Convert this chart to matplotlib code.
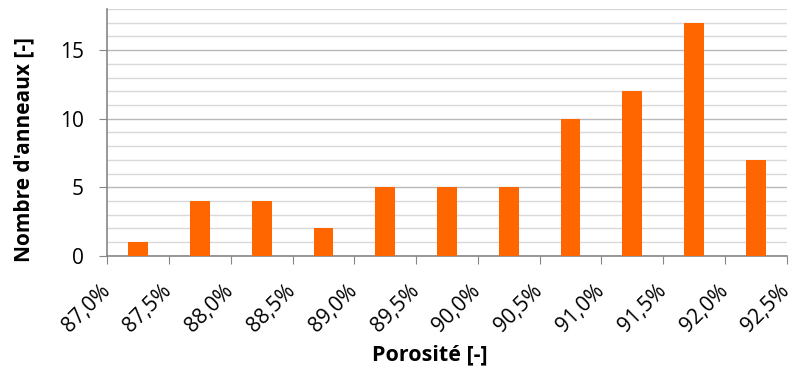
import matplotlib.pyplot as plt
import matplotlib.transforms as mtransforms
import numpy as np

tick_labels = ["87,0%", "87,5%", "88,0%", "88,5%", "89,0%", "89,5%",
               "90,0%", "90,5%", "91,0%", "91,5%", "92,0%", "92,5%"]
counts = [1, 4, 4, 2, 5, 5, 5, 10, 12, 17, 7]

plt.rcParams['font.family'] = ['Open Sans', 'DejaVu Sans']

fig = plt.figure(figsize=(7.94, 3.78), dpi=100)
ax = fig.add_axes([0.135, 0.323, 0.856, 0.653])

x = np.arange(len(counts)) + 0.5
ax.bar(x, counts, width=0.32, color="#FF6600", zorder=3)

ax.set_xlim(0, len(counts))
ax.set_ylim(0, 18)
ax.set_yticks([0, 5, 10, 15])
ax.set_yticks(range(0, 19), minor=True)
ax.set_xticks(range(len(tick_labels)))
ax.set_xticklabels(tick_labels, rotation=45, ha="right", fontsize=15)
ax.tick_params(axis="y", labelsize=15, length=6, color="#868686", pad=11)
ax.tick_params(axis="y", which="minor", length=0)
ax.tick_params(axis="x", length=5.5, color="#868686", pad=12)

# shift the rotated labels a little to the right, like Excel does
shift = mtransforms.ScaledTranslation(7 / 100, 0, fig.dpi_scale_trans)
for lab in ax.get_xticklabels():
    lab.set_transform(lab.get_transform() + shift)

ax.grid(axis="y", which="minor", color="#D9D9D9", linewidth=1, zorder=0)
ax.grid(axis="y", which="major", color="#B8B8B8", linewidth=1, zorder=0)

for s in ["top", "right"]:
    ax.spines[s].set_visible(False)
for s in ["left", "bottom"]:
    ax.spines[s].set_color("#868686")
    ax.spines[s].set_linewidth(1.2)

ax.set_ylabel("Nombre d'anneaux [-]", fontsize=15, fontweight="bold")
ax.set_xlabel("Porosité [-]", fontsize=15.5, fontweight="bold")
ax.yaxis.set_label_coords(-0.107, 0.43)
ax.xaxis.set_label_coords(0.475, -0.36)

fig.savefig("out.png", dpi=100)
